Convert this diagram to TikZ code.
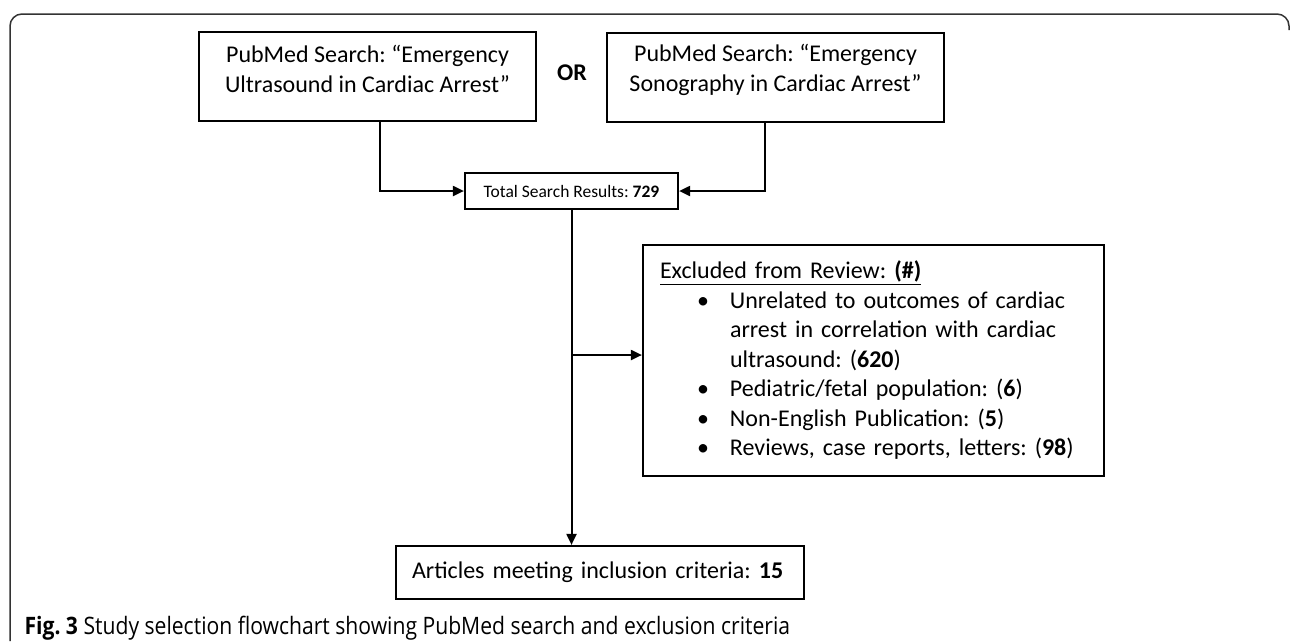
\documentclass[tikz,border=0pt]{standalone}
\usepackage{fontspec}
\setmainfont{Carlito}
\newfontfamily\captionfont{Open Sans}[FakeStretch=0.88]
\usetikzlibrary{arrows.meta}
\frenchspacing

\begin{document}
\begin{tikzpicture}[x=1pt, y=-1pt,
    frame/.style ={draw=black!80, line width=1.5pt, rounded corners=12pt},
    searchbox/.style ={draw, line width=2.5pt, minimum width=337pt, minimum height=89pt, inner sep=0pt},
    searchtext/.style ={align=center, yshift=8pt, font=\fontsize{24}{30}\selectfont},
    totalbox/.style ={draw, line width=2.2pt, minimum width=213pt, minimum height=36pt, inner sep=0pt,
                      font=\fontsize{17.5}{21}\selectfont},
    exclbox/.style ={draw, line width=2.2pt, minimum width=461pt, minimum height=231pt, inner xsep=17pt,
                     text width=427pt, align=left, font=\fontsize{24}{29.5}\selectfont},
    finalbox/.style ={draw, line width=2.2pt, minimum width=408pt, minimum height=53pt, inner xsep=16pt,
                      text width=376pt, align=left, font=\fontsize{24}{29}\selectfont},
    connector/.style ={line width=2pt, -{Triangle[length=11pt,width=10pt]}}]
   \useasboundingbox (0,0) rectangle (1290,641);
   \draw[frame] (10,641) |- (1289,14) -- (1289,30);

   \node[searchbox, label={[searchtext]center:{PubMed Search: “Emergency\\Ultrasound in Cardiac Arrest”}}] (pmA) at (367.5,76.5) {};
   \node[searchbox, label={[searchtext]center:{PubMed Search: “Emergency\\Sonography in Cardiac Arrest”}}] (pmB) at (775.5,77.5) {};
   \node[font=\fontsize{24}{28}\selectfont\bfseries] (or) at (572,73) {OR};

   \node[totalbox] (total) at (571.5,191) {Total Search Results: \textbf{729}};
   \node[exclbox] (excl) at (873.5,360.5) {\underline{Excluded from Review: \textbf{(\#)}}\\
      \hspace*{37pt}\makebox[33pt][l]{\textbullet}Unrelated to outcomes of cardiac\\
      \hspace*{70pt}arrest in correlation with cardiac\\
      \hspace*{70pt}ultrasound: (\textbf{620})\\
      \hspace*{37pt}\makebox[33pt][l]{\textbullet}Pediatric/fetal population: (\textbf{6})\\
      \hspace*{37pt}\makebox[33pt][l]{\textbullet}Non-English Publication: (\textbf{5})\\
      \hspace*{37pt}\makebox[33pt][l]{\textbullet}Reviews, case reports, letters: (\textbf{98})};
   \node[finalbox] (final) at (600,572.5) {Articles meeting inclusion criteria: \textbf{15}};

   \node[anchor=west, font=\captionfont\fontsize{24}{28}\selectfont] (caption) at (21,628)
      {\textbf{Fig. 3} Study selection flowchart showing PubMed search and exclusion criteria};

   \coordinate (split) at (572,355);
   \draw[connector] ([xshift=12.5pt]pmA.south) |- (total);
   \draw[connector] ([xshift=-10.5pt]pmB.south) |- (total);
   \draw[connector] (total) -- (total |- final.north);
   \draw[connector] (split) -- (split -| excl.west);
 \end{tikzpicture}
\end{document}
